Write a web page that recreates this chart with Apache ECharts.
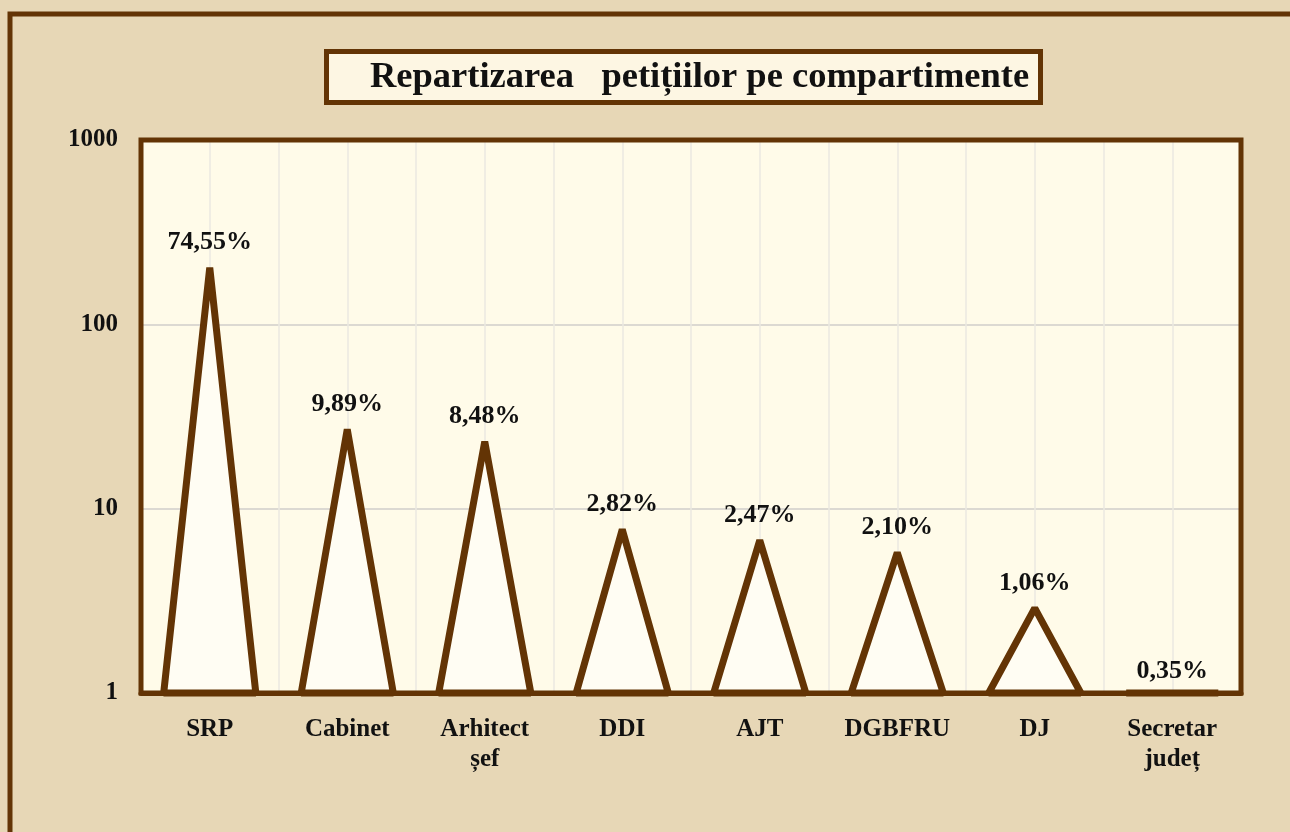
<!DOCTYPE html>
<html>
<head>
<meta charset="utf-8">
<script src="https://cdn.jsdelivr.net/npm/echarts@6/dist/echarts.min.js"></script>
<style>
  html, body { margin: 0; padding: 0; background: #e6d6b3; }
  #chart { width: 1290px; height: 832px; }
</style>
</head>
<body>
<div id="chart"></div>
<script>
// data
var categories = ['SRP', 'Cabinet', 'Arhitect\nșef', 'DDI', 'AJT', 'DGBFRU', 'DJ', 'Secretar\njudeț'];
var petitions = [211, 28, 24, 8, 7, 6, 3, 1];
var percentLabels = ['74,55%', '9,89%', '8,48%', '2,82%', '2,47%', '2,10%', '1,06%', '0,35%'];
var yTicks = [1, 10, 100, 1000];

var brown = '#633405';
var serif = '"Liberation Serif", "Times New Roman", serif';

var myChart = echarts.init(document.getElementById('chart'));

var option = {
    backgroundColor: '#e7d7b6',
    animation: false,
    title: {
        text: 'Repartizarea   petițiilor pe compartimente',
        left: 326,
        top: 51,
        padding: [8, 12, 7, 44],
        backgroundColor: '#fdf6e3',
        borderColor: brown,
        borderWidth: 5,
        textStyle: {
            fontFamily: serif,
            fontSize: 36.5,
            fontWeight: 'bold',
            color: '#111'
        }
    },
    graphic: [{
        type: 'rect',
        z: -1,
        shape: { x: 10, y: 14, width: 1320, height: 900 },
        style: { fill: 'transparent', stroke: brown, lineWidth: 5 }
    }, {
        // plot frame
        type: 'rect',
        z: 50,
        silent: true,
        shape: { x: 141, y: 140, width: 1100, height: 553 },
        style: { fill: 'transparent', stroke: brown, lineWidth: 5 }
    }],
    grid: {
        left: 141,
        right: 49,
        top: 140,
        bottom: 139,
        show: true,
        backgroundColor: '#fffbe9',
        borderWidth: 0
    },
    xAxis: [{
        type: 'category',
        data: categories,
        axisLine: { lineStyle: { color: brown, width: 5 } },
        axisTick: { show: false },
        axisLabel: {
            interval: 0,
            margin: 22,
            fontFamily: serif,
            fontSize: 25,
            fontWeight: 'bold',
            color: '#111',
            lineHeight: 30
        },
        splitLine: { show: false }
    }, {
        // helper axis only for the half-category vertical grid lines
        type: 'value',
        min: 0,
        max: 16,
        interval: 1,
        show: true,
        position: 'bottom',
        axisLine: { show: false },
        axisTick: { show: false },
        axisLabel: { show: false },
        splitLine: { show: true, lineStyle: { color: '#ebe8e0', width: 1.5 } }
    }],
    yAxis: {
        type: 'log',
        logBase: 10,
        min: 1,
        max: 1000,
        axisLine: { show: false },
        axisTick: { show: false },
        axisLabel: {
            margin: 23,
            fontFamily: serif,
            fontSize: 25,
            fontWeight: 'bold',
            color: '#111',
            formatter: function (v) { return yTicks.indexOf(Math.round(v)) >= 0 ? String(Math.round(v)) : ''; }
        },
        splitLine: { show: true, lineStyle: { color: '#dcd9d2', width: 2 } }
    },
    series: [{
        type: 'custom',
        xAxisIndex: 0,
        z: 10,
        data: petitions.map(function (v, i) { return [i, v]; }),
        renderItem: function (params, api) {
            var i = api.value(0);
            var top = api.coord([i, api.value(1)]);
            var base = api.coord([i, 1]);
            var half = api.size([1, 1])[0] * 0.335;
            var inset = base[1] - top[1] > 6 ? 3 : 0;
            return {
                type: 'group',
                children: [{
                    type: 'polygon',
                    shape: {
                        points: [[base[0] - half, base[1]], [top[0], top[1] + inset], [base[0] + half, base[1]]]
                    },
                    style: {
                        fill: '#fffdf3',
                        stroke: brown,
                        lineWidth: 7,
                        lineJoin: 'bevel'
                    }
                }, {
                    type: 'text',
                    x: top[0],
                    y: top[1] - 9,
                    style: {
                        text: percentLabels[i],
                        textAlign: 'center',
                        textVerticalAlign: 'bottom',
                        fontFamily: serif,
                        fontSize: 26,
                        fontWeight: 'bold',
                        fill: '#111'
                    }
                }]
            };
        }
    }]
};

myChart.setOption(option);
</script>
</body>
</html>
